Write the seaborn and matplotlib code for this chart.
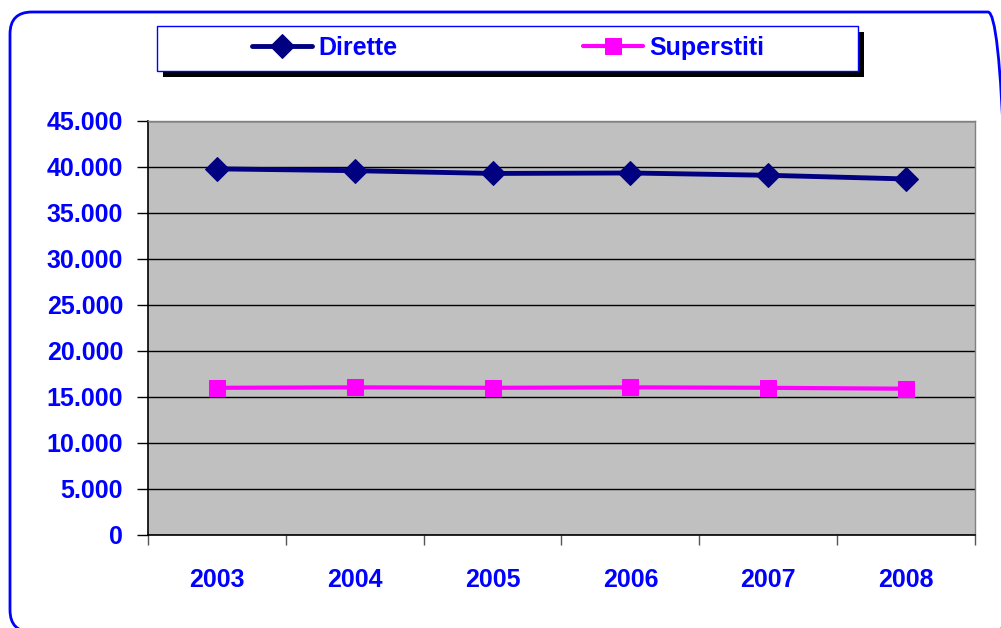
import numpy as np
import pandas as pd
import seaborn as sns
from matplotlib import pyplot as plt
from matplotlib.patches import FancyBboxPatch, Rectangle
from matplotlib.transforms import IdentityTransform
from matplotlib.ticker import FuncFormatter, FixedLocator

# values
years = ["2003", "2004", "2005", "2006", "2007", "2008"]
dirette = [39800, 39600, 39300, 39350, 39100, 38700]
superstiti = [16000, 16050, 16000, 16050, 16000, 15900]

BLUE = "#0000FF"
NAVY = "#000080"
MAGENTA = "#FF00FF"
FS = 18

sns.set_theme(style="white")
plt.rcParams['font.family'] = ['Liberation Sans', 'DejaVu Sans']

W, H = 1001, 628
fig = plt.figure(figsize=(W / 100, H / 100), dpi=100)

# outer rounded frame in pixel coords (runs just off the right and bottom edges)
frame = FancyBboxPatch((10, -4), 1000, H - 12 + 4,
                       boxstyle="round,pad=0,rounding_size=22",
                       transform=IdentityTransform(), fill=False,
                       edgecolor=BLUE, linewidth=2)
fig.patches.append(frame)

ax = fig.add_axes([148 / W, (H - 535) / H, 827 / W, 414 / H])
ax.set_facecolor("#C0C0C0")

df = pd.DataFrame({"x": np.arange(len(years)), "Dirette": dirette, "Superstiti": superstiti})

sns.lineplot(data=df, x="x", y="Dirette", ax=ax, color=NAVY, linewidth=3.5,
             marker="D", markersize=12, markeredgecolor=NAVY, label="Dirette", zorder=4)
sns.lineplot(data=df, x="x", y="Superstiti", ax=ax, color=MAGENTA, linewidth=3,
             marker="s", markersize=11, markeredgecolor=MAGENTA, label="Superstiti", zorder=4)

ax.set_xlim(-0.5, len(years) - 0.5)
ax.set_ylim(0, 45000)
ax.set_yticks(np.arange(0, 45001, 5000))
ax.yaxis.set_major_formatter(FuncFormatter(lambda v, p: f"{int(v):,}".replace(",", ".")))
ax.set_xticks(np.arange(len(years)))
ax.set_xticklabels(years)
ax.xaxis.set_minor_locator(FixedLocator(np.arange(-0.5, len(years), 1.0)))
ax.grid(axis="y", color="black", linewidth=1)
ax.set_axisbelow(True)
ax.set_xlabel("")
ax.set_ylabel("")

ax.tick_params(axis="x", which="major", length=0, pad=24, labelsize=FS, labelcolor=BLUE)
ax.tick_params(axis="x", which="minor", length=7, width=1, color="#555555", direction="out", bottom=True)
ax.tick_params(axis="y", length=8, width=1, color="black", direction="out", left=True,
               pad=10, labelsize=FS, labelcolor=BLUE)
for lab in ax.get_xticklabels() + ax.get_yticklabels():
    lab.set_fontweight("bold")

for side in ["left", "bottom"]:
    ax.spines[side].set_color("black")
    ax.spines[side].set_linewidth(1.2)
for side in ["top", "right"]:
    ax.spines[side].set_color("#808080")
    ax.spines[side].set_linewidth(1)

# legend box with shadow on top
handles, labels = ax.get_legend_handles_labels()
ax.get_legend().remove()
fig.patches.append(Rectangle((163 / W, 1 - 77 / H), 701 / W, 45 / H,
                             transform=fig.transFigure, facecolor="black", edgecolor="none"))
fig.patches.append(Rectangle((157 / W, 1 - 71 / H), 701 / W, 45 / H,
                             transform=fig.transFigure, facecolor="white", edgecolor=BLUE, linewidth=1))
leg = fig.legend(handles, labels, ncol=2, loc="center", bbox_to_anchor=(508 / W, 1 - 48 / H),
                 frameon=False, handlelength=2.4, handletextpad=0.25, columnspacing=7.4,
                 prop={"weight": "bold", "size": FS})
for t in leg.get_texts():
    t.set_color(BLUE)

fig.savefig("out.png", dpi=100)
